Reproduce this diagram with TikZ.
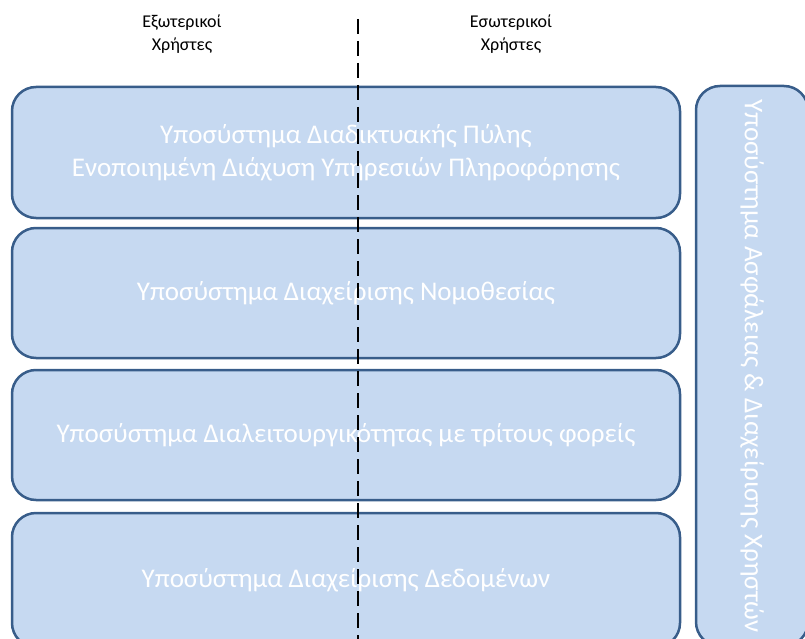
\documentclass[tikz,border=0pt]{standalone}
\usepackage{fontspec}
\setmainfont{Carlito}
\definecolor{boxfill}{RGB}{198,217,241}
\definecolor{boxline}{RGB}{56,93,138}
\begin{document}
\begin{tikzpicture}
  [x=1pt,y=-1pt,every node/.style={rectangle,rounded corners=24pt,fill=boxfill,draw=boxline,
   line width=2.5pt,text=white,font=\fontsize{27}{33}\selectfont,align=center}]
  \useasboundingbox (0,0) rectangle (805,639);
  \clip (0,0) rectangle (805,639);
  \node[minimum width=668pt,minimum height=131pt] (sub1) at (346,152.5) {Υποσύστημα Διαδικτυακής Πύλης\\Ενοποιημένη Διάχυση Υπηρεσιών Πληροφόρησης};
  \node[minimum width=668pt,minimum height=130pt] (sub2) at (346,293) {Υποσύστημα Διαχείρισης Νομοθεσίας};
  \node[minimum width=668pt,minimum height=130pt] (sub3) at (346,435) {Υποσύστημα Διαλειτουργικότητας με τρίτους φορείς};
  \node[minimum width=668pt,minimum height=134pt] (sub4) at (346,580) {Υποσύστημα Διαχείρισης Δεδομένων};
  \node[minimum width=560pt,minimum height=112pt,rotate=-90] (sec) at (752,366) {Υποσύστημα Ασφάλειας \& Διαχείρισης Χρηστών};
  \node[fill=none,draw=none,text=black,font=\fontsize{18}{23}\selectfont] (ext) at (182,34) {Εξωτερικοί\\Χρήστες};
  \node[fill=none,draw=none,text=black,font=\fontsize{18}{23}\selectfont] (int) at (511,34) {Εσωτερικοί\\Χρήστες};
  \coordinate (top) at (358,19);
  \coordinate (bot) at (358,639);
  \draw[line width=2pt,dash pattern=on 15pt off 7pt] (top) -- (bot);
\end{tikzpicture}
\end{document}
